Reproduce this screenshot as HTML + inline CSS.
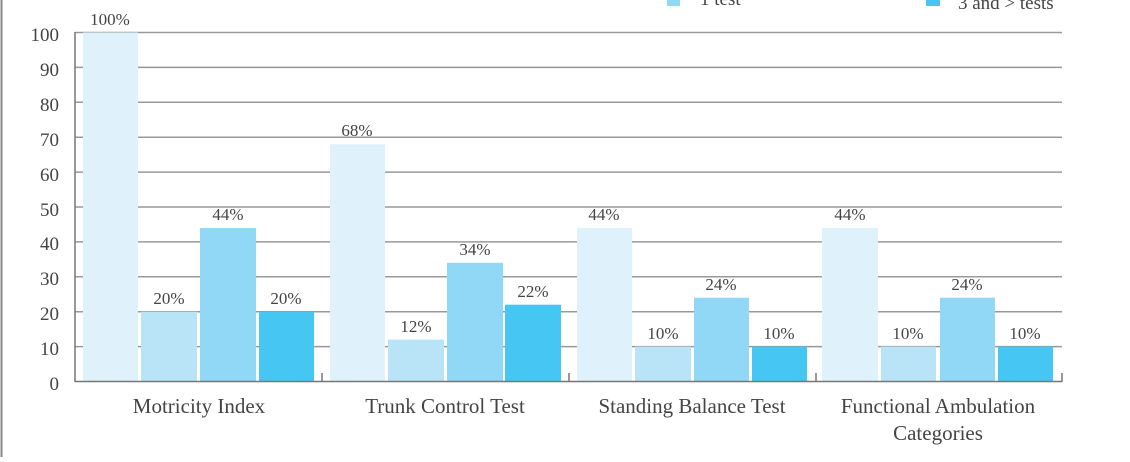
<!DOCTYPE html>
<html><head><style>
html,body{margin:0;padding:0;background:#fff;}
svg text{font-family:"Liberation Serif",serif;fill:#444;}
</style></head><body>
<svg width="1130" height="457" xmlns="http://www.w3.org/2000/svg">
<line x1="1.5" y1="0" x2="1.5" y2="457" stroke="#888" stroke-width="2"/>
<g stroke="#999" stroke-width="1.5">
<line x1="75" y1="32.5" x2="1062" y2="32.5"/>
<line x1="75" y1="67.4" x2="1062" y2="67.4"/>
<line x1="75" y1="102.3" x2="1062" y2="102.3"/>
<line x1="75" y1="137.2" x2="1062" y2="137.2"/>
<line x1="75" y1="172.1" x2="1062" y2="172.1"/>
<line x1="75" y1="207" x2="1062" y2="207"/>
<line x1="75" y1="241.9" x2="1062" y2="241.9"/>
<line x1="75" y1="276.8" x2="1062" y2="276.8"/>
<line x1="75" y1="311.7" x2="1062" y2="311.7"/>
<line x1="75" y1="346.6" x2="1062" y2="346.6"/>
</g>
<g font-size="19" text-anchor="end">
<text x="59" y="41">100</text><text x="59" y="76">90</text><text x="59" y="111">80</text>
<text x="59" y="146">70</text><text x="59" y="181">60</text><text x="59" y="216">50</text>
<text x="59" y="250">40</text><text x="59" y="285">30</text><text x="59" y="320">20</text>
<text x="59" y="355">10</text><text x="59" y="390">0</text>
</g>
<g id="bars">
<rect x="83" y="32.5" width="55" height="349" fill="#dff1fb"/>
<rect x="141" y="311.7" width="56" height="69.8" fill="#b9e4f8"/>
<rect x="200" y="228" width="56" height="153.5" fill="#90d8f5"/>
<rect x="259" y="311.7" width="55" height="69.8" fill="#45c6f3"/>

<rect x="330" y="144.2" width="55" height="237.3" fill="#dff1fb"/>
<rect x="388" y="339.6" width="56" height="41.9" fill="#b9e4f8"/>
<rect x="447" y="262.8" width="56" height="118.7" fill="#90d8f5"/>
<rect x="505" y="304.7" width="56" height="76.8" fill="#45c6f3"/>

<rect x="577" y="228" width="55" height="153.5" fill="#dff1fb"/>
<rect x="635" y="346.6" width="56" height="34.9" fill="#b9e4f8"/>
<rect x="694" y="297.7" width="55" height="83.8" fill="#90d8f5"/>
<rect x="752" y="346.6" width="55" height="34.9" fill="#45c6f3"/>

<rect x="822" y="228" width="56" height="153.5" fill="#dff1fb"/>
<rect x="881" y="346.6" width="55" height="34.9" fill="#b9e4f8"/>
<rect x="940" y="297.7" width="55" height="83.8" fill="#90d8f5"/>
<rect x="998" y="346.6" width="55" height="34.9" fill="#45c6f3"/>
</g>
<g stroke="#777" stroke-width="1.5">
<line x1="75" y1="32" x2="75" y2="382"/>
<line x1="75" y1="381.5" x2="1062" y2="381.5"/>
<line x1="322" y1="373" x2="322" y2="382"/>
<line x1="569" y1="373" x2="569" y2="382"/>
<line x1="816" y1="373" x2="816" y2="382"/>
<line x1="1062" y1="373" x2="1062" y2="382"/>
</g>
<g font-size="17" text-anchor="middle">
<text x="110" y="25">100%</text><text x="169" y="304">20%</text><text x="228" y="220">44%</text><text x="286" y="304">20%</text>
<text x="357" y="136">68%</text><text x="416" y="332">12%</text><text x="475" y="255">34%</text><text x="533" y="297">22%</text>
<text x="604" y="220">44%</text><text x="663" y="339">10%</text><text x="721" y="290">24%</text><text x="779" y="339">10%</text>
<text x="850" y="220">44%</text><text x="908" y="339">10%</text><text x="967" y="290">24%</text><text x="1025" y="339">10%</text>
</g>
<g font-size="21" text-anchor="middle">
<text x="199" y="413">Motricity Index</text>
<text x="445" y="413">Trunk Control Test</text>
<text x="692" y="413">Standing Balance Test</text>
<text x="938" y="413">Functional Ambulation</text>
<text x="938" y="440">Categories</text>
</g>
<rect x="667" y="-1" width="13" height="7" fill="#90d8f5"/>
<text x="700" y="5" font-size="19">1 test</text>
<rect x="926" y="-1" width="14" height="7" fill="#45c6f3"/>
<text x="958" y="9" font-size="19">3 and &gt; tests</text>
</svg>
</body></html>
